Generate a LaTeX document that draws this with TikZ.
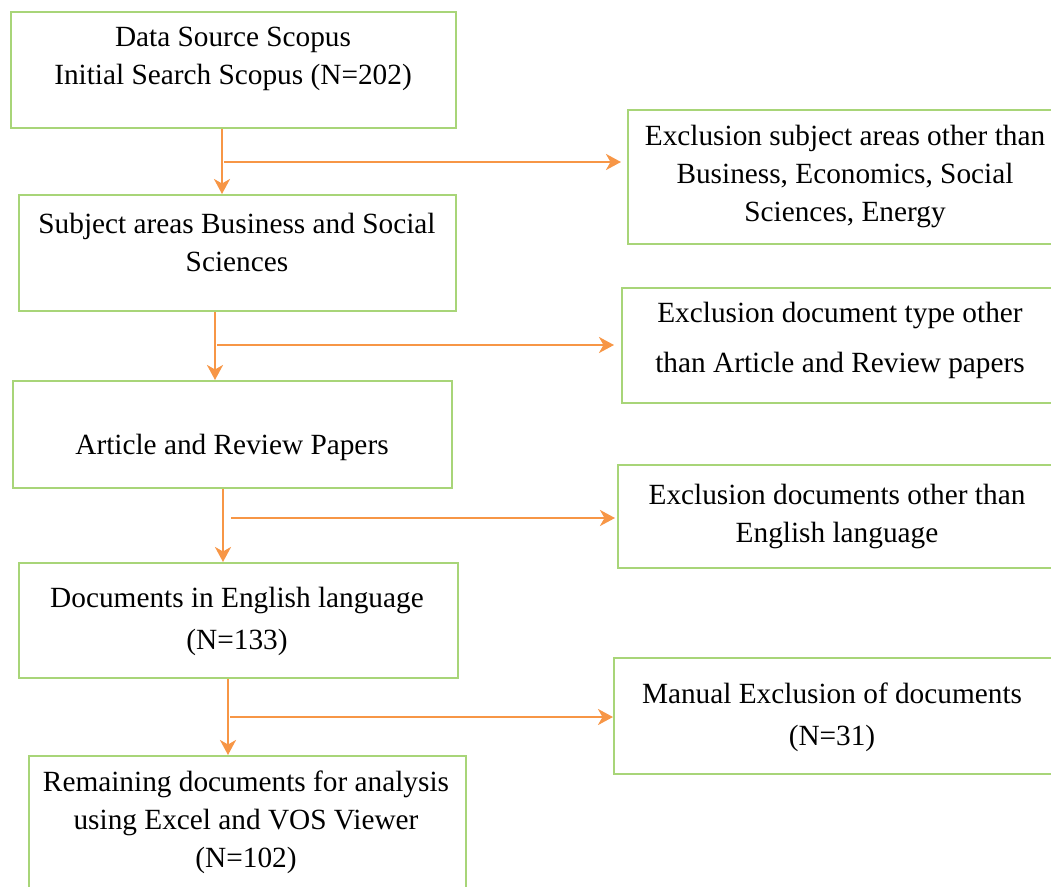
\documentclass[tikz,border=0pt]{standalone}
\usepackage{fontspec}
\setmainfont{Liberation Serif}
\usepackage{tikz}
\usetikzlibrary{arrows.meta,positioning}
\definecolor{boxgreen}{RGB}{168,213,120}
\definecolor{floworange}{RGB}{247,150,70}

\begin{document}
\begin{tikzpicture}[x=1pt, y=-1pt,
    box/.style={draw=boxgreen, line width=1.5pt, anchor=north west, inner sep=0pt},
    txt/.style={align=center, inner sep=0pt, font=\fontsize{29.3}{38}\selectfont},
    flow/.style={draw=floworange, line width=2.6pt, -{Stealth[length=15pt, width=16pt, inset=4.5pt]}}]
  \useasboundingbox (0,0) rectangle (1051,886);
  % main column
  \node[box, minimum width=445pt, minimum height=116pt] (b1) at (10,11) {};
  \node[box, minimum width=437pt, minimum height=116pt] (b2) at (18,194) {};
  \node[box, minimum width=439pt, minimum height=107pt] (b3) at (12,380) {};
  \node[box, minimum width=439pt, minimum height=115pt] (b4) at (18,562) {};
  \node[box, minimum width=437pt, minimum height=150pt] (b5) at (28,755) {};
  \node[txt] (t1) at (233,59) {Data Source Scopus\\Initial Search Scopus (N=202)};
  \node[txt] (t2) at (237,242) {Subject areas Business and Social\\Sciences};
  \node[txt] (t3) at (232,447) {Article and Review Papers};
  \node[txt] (t4) at (237,621) {Documents in English language\\[4pt](N=133)};
  \node[txt] (t5) at (246,822) {Remaining documents for analysis\\using Excel and VOS Viewer\\(N=102)};
  % exclusions
  \node[box, minimum width=440pt, minimum height=134pt] (e1) at (627,109) {};
  \node[box, minimum width=445pt, minimum height=115pt] (e2) at (621,287) {};
  \node[box, minimum width=450pt, minimum height=103pt] (e3) at (617,464) {};
  \node[box, minimum width=455pt, minimum height=116pt] (e4) at (613,657) {};
  \node[txt] (x1) at (845,176) {Exclusion subject areas other than\\Business, Economics, Social\\Sciences, Energy};
  \node[txt] (x2) at (840,340) {Exclusion document type other\\[12pt]than Article and Review papers};
  \node[txt] (x3) at (837,516) {Exclusion documents other than\\English language};
  \node[txt] (x4) at (832,717) {Manual Exclusion of documents\\[4pt](N=31)};
  % connectors
  \coordinate (s1) at (224,162);
  \coordinate (s2) at (217,345);
  \coordinate (s3) at (231,518);
  \coordinate (s4) at (230,717);
  \coordinate (d1) at (222,0);
  \coordinate (d2) at (215,0);
  \coordinate (d3) at (223,0);
  \coordinate (d4) at (228,0);
  \draw[flow] (b1.south -| d1) -- (b2.north -| d1);
  \draw[flow] (b2.south -| d2) -- (b3.north -| d2);
  \draw[flow] (b3.south -| d3) -- (b4.north -| d3);
  \draw[flow] (b4.south -| d4) -- (b5.north -| d4);
  \draw[flow, shorten >=6pt] (s1) -- (s1 -| e1.west);
  \draw[flow, shorten >=7pt] (s2) -- (s2 -| e2.west);
  \draw[flow, shorten >=2pt] (s3) -- (s3 -| e3.west);
  \draw[flow] (s4) -- (s4 -| e4.west);
\end{tikzpicture}
\end{document}
